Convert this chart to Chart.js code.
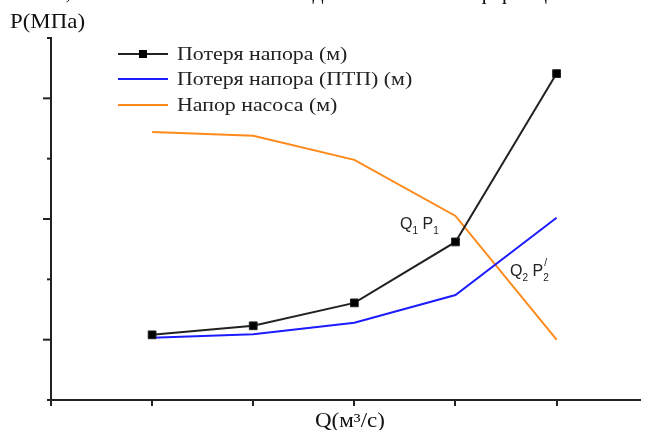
<!DOCTYPE html>
<html>
<head>
<meta charset="utf-8">
<script src="https://cdn.jsdelivr.net/npm/chart.js@4.4.0/dist/chart.umd.min.js"></script>
<style>
html, body { margin: 0; padding: 0; background: #fff; }
#wrap { position: relative; width: 646px; height: 430px; overflow: hidden; }
#chart { position: absolute; left: 0; top: 0; }
.serif { position: absolute; font-family: "Liberation Serif", "Times New Roman", serif; color: #111; white-space: nowrap; line-height: 1; transform-origin: 0 0; }
.sans { position: absolute; font-family: "Liberation Sans", Arial, sans-serif; color: #222; white-space: nowrap; line-height: 1; font-size: 16px; }
.sans sub { font-size: 10px; vertical-align: -5px; }
#cut { position: absolute; left: 0; top: 0; width: 646px; height: 6px; overflow: hidden; }
#cut div { position: absolute; top: -19px; left: 12px; font-family: "Liberation Serif", serif; font-size: 22px; line-height: 22px; letter-spacing: 6px; white-space: nowrap; color: #111; }
#legend { position: absolute; left: 118px; top: 41px; }
.row { display: flex; align-items: center; height: 25.5px; }
.row svg { margin-right: 9px; }
.row span { font-family: "Liberation Serif", "Times New Roman", serif; font-size: 19px; color: #222; display: inline-block; transform: scaleX(1.15); transform-origin: 0 50%; }
</style>
</head>
<body>
<div id="wrap">
  <canvas id="chart" width="646" height="430"></canvas>
  <div id="cut"><div>ием, основанная на данном коэффициенте.</div></div>
  <div class="serif" style="left:10px; top:11px; font-size:21px; transform:scaleX(1.09);">P(МПа)</div>
  <div class="serif" style="left:315px; top:410px; font-size:20px; transform:scaleX(1.15);">Q(м³/с)</div>
  <div id="legend"></div>
  <div class="sans" style="left:400px; top:216px;">Q<sub>1</sub> P<sub>1</sub></div>
  <div class="sans" style="left:510px; top:263px;">Q<sub>2</sub> P<sub style="position:relative;"><span style="position:absolute; left:1px; top:-14px;">/</span>2</sub></div>
</div>
<script>
// расход (условные единицы по оси Q)
const flowValues = [1, 2, 3, 4, 5];
const headLoss = [1.08, 1.23, 1.61, 2.62, 5.41];
const headLossPtp = [1.03, 1.09, 1.28, 1.74, 3.02];
const pumpHead = [4.44, 4.38, 3.98, 3.05, 1.0];

const seriesLabels = ['Потеря напора (м)', 'Потеря напора (ПТП) (м)', 'Напор насоса (м)'];
const seriesColors = ['#222222', '#1c1cff', '#ff8a1c'];

const xTicks = [0, 1, 2, 3, 4, 5];
const yTicks = [0, 1, 2, 3, 4, 5, 6];

function toPoints(values) {
    return flowValues.map((x, i) => ({ x: x, y: values[i] }));
}

// y ticks: long and short ones alternate
const yTickMarks = {
    id: 'yTickMarks',
    afterDraw(chart) {
        const ctx = chart.ctx;
        const y = chart.scales.y;
        ctx.save();
        ctx.strokeStyle = '#222';
        ctx.lineWidth = 2;
        yTicks.forEach(v => {
            const len = v % 2 === 1 ? 8 : 4;
            const py = y.getPixelForValue(v);
            ctx.beginPath();
            ctx.moveTo(y.right - len, py);
            ctx.lineTo(y.right, py);
            ctx.stroke();
        });
        ctx.restore();
    }
};

const ctx = document.getElementById('chart').getContext('2d');
const myChart = new Chart(ctx, {
    type: 'line',
    data: {
        datasets: [{
            label: seriesLabels[0],
            data: toPoints(headLoss),
            borderColor: seriesColors[0],
            backgroundColor: '#000',
            borderWidth: 2,
            pointStyle: 'rect',
            pointRadius: 5.5,
            pointBorderWidth: 1,
            order: 0
        }, {
            label: seriesLabels[1],
            data: toPoints(headLossPtp),
            borderColor: seriesColors[1],
            borderWidth: 2,
            pointRadius: 0,
            order: 1
        }, {
            label: seriesLabels[2],
            data: toPoints(pumpHead),
            borderColor: seriesColors[2],
            borderWidth: 2,
            pointRadius: 0,
            order: 2
        }]
    },
    options: {
        responsive: false,
        animation: false,
        layout: { padding: { top: 38, right: 6, left: 0, bottom: 0 } },
        plugins: {
            legend: { display: false },
            tooltip: { enabled: false }
        },
        scales: {
            x: {
                type: 'linear',
                min: 0,
                max: 5.82,
                afterBuildTicks: s => { s.ticks = xTicks.map(v => ({ value: v })); },
                afterFit: s => { s.height = 30; },
                ticks: { display: false },
                grid: { drawOnChartArea: false, tickLength: 6, color: '#222', lineWidth: 2 },
                border: { color: '#222', width: 2 }
            },
            y: {
                min: 0,
                max: 6,
                afterBuildTicks: s => { s.ticks = yTicks.map(v => ({ value: v })); },
                afterFit: s => { s.width = 51; },
                ticks: { display: false },
                grid: { drawOnChartArea: false, drawTicks: false },
                border: { color: '#222', width: 2 }
            }
        }
    },
    plugins: [yTickMarks]
});

// легенда
const legend = document.getElementById('legend');
myChart.data.datasets.forEach((ds, i) => {
    const row = document.createElement('div');
    row.className = 'row';
    let marker = i === 0 ? '<rect x="21" y="2" width="8" height="8" fill="#000"/>' : '';
    row.innerHTML = '<svg width="50" height="12"><line x1="0" y1="6" x2="50" y2="6" stroke="' +
        ds.borderColor + '" stroke-width="2"/>' + marker + '</svg><span>' + ds.label + '</span>';
    legend.appendChild(row);
});
</script>
</body>
</html>
